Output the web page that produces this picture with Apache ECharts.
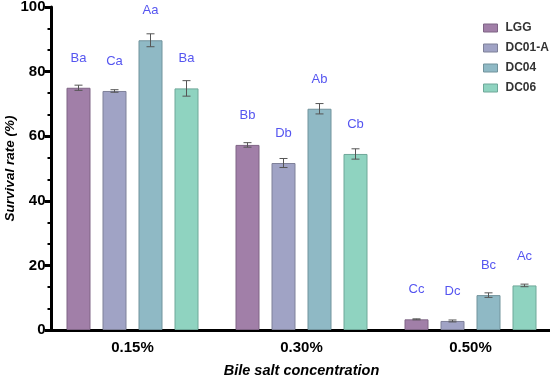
<!DOCTYPE html>
<html>
<head>
<meta charset="utf-8">
<script src="https://cdn.jsdelivr.net/npm/echarts@6/dist/echarts.min.js"></script>
<style>html,body{margin:0;padding:0;background:#fff}#c{width:550px;height:378px}</style>
</head>
<body>
<div id="c"></div>
<script>
const categories = ['0.15%', '0.30%', '0.50%'];
const seriesNames = ['LGG', 'DC01-A', 'DC04', 'DC06'];
const LGG = [75.0, 57.3, 3.3];
const DC01A = [74.0, 51.7, 2.8];
const DC04 = [89.7, 68.5, 10.8];
const DC06 = [74.8, 54.5, 13.8];
const errLGG = [0.8, 0.7, 0.15];
const errDC01A = [0.4, 1.4, 0.3];
const errDC04 = [2.0, 1.6, 0.7];
const errDC06 = [2.4, 1.6, 0.4];
const lettersLGG = ['Ba', 'Bb', 'Cc'];
const lettersDC01A = ['Ca', 'Db', 'Dc'];
const lettersDC04 = ['Aa', 'Ab', 'Bc'];
const lettersDC06 = ['Ba', 'Cb', 'Ac'];
const yTicks = [0, 20, 40, 60, 80, 100];

const values = [LGG, DC01A, DC04, DC06];
const errs = [errLGG, errDC01A, errDC04, errDC06];
const letters = [lettersLGG, lettersDC01A, lettersDC04, lettersDC06];
const colors = ['#a17fa8', '#a0a3c5', '#8fb9c5', '#8fd3c0'];
const borders = ['#7f6485', '#7f8199', '#71939c', '#6fa899'];

const BAR_W = 24, GAP = 12;
const series = [];
values.forEach((vals, i) => {
  series.push({
    name: seriesNames[i],
    type: 'bar',
    data: vals,
    barWidth: BAR_W,
    barGap: (GAP / BAR_W * 100) + '%',
    itemStyle: { color: colors[i], borderColor: borders[i], borderWidth: 1 },
    label: {
      show: true,
      position: 'top',
      distance: 23,
      color: '#5555f0',
      fontSize: 13,
      fontFamily: 'Liberation Sans, Arial, sans-serif',
      formatter: p => letters[i][p.dataIndex]
    },
    z: 2
  });
});
values.forEach((vals, i) => {
  const offset = (i - 1.5) * (BAR_W + GAP);
  series.push({
    type: 'custom',
    name: seriesNames[i] + '-err',
    data: vals.map((v, k) => [k, v, errs[i][k]]),
    z: 5,
    silent: true,
    renderItem: (params, api) => {
      const k = api.value(0), v = api.value(1), e = api.value(2);
      const top = api.coord([k, v + e]);
      const bot = api.coord([k, v - e]);
      const x = top[0] + offset;
      const cap = 4;
      const st = { stroke: '#555', lineWidth: 1 };
      return {
        type: 'group',
        children: [
          { type: 'line', shape: { x1: x, y1: top[1], x2: x, y2: bot[1] }, style: st },
          { type: 'line', shape: { x1: x - cap, y1: top[1], x2: x + cap, y2: top[1] }, style: st },
          { type: 'line', shape: { x1: x - cap, y1: bot[1], x2: x + cap, y2: bot[1] }, style: st }
        ]
      };
    },
    encode: { x: 0, y: 1 }
  });
});

const chart = echarts.init(document.getElementById('c'));
chart.setOption({
  animation: false,
  backgroundColor: '#fff',
  textStyle: { fontFamily: 'Liberation Sans, Arial, sans-serif' },
  grid: { left: 48, right: -5, top: 7, bottom: 48, containLabel: false, outerBoundsMode: 'none' },
  legend: {
    data: seriesNames,
    orient: 'vertical',
    left: 483,
    top: 22,
    padding: 0,
    itemWidth: 14,
    itemHeight: 8,
    itemGap: 8,
    icon: 'rect',
    textStyle: { fontSize: 12, fontWeight: 'bold', color: '#333', padding: [0, 0, 0, 3] },
    itemStyle: { borderWidth: 1 }
  },
  xAxis: {
    type: 'category',
    data: categories,
    name: 'Bile salt concentration',
    nameLocation: 'middle',
    nameGap: 33,
    nameMoveOverlap: false,
    nameTextStyle: { fontSize: 14.5, fontWeight: 'bold', fontStyle: 'italic', color: '#000' },
    axisLine: { lineStyle: { color: '#000', width: 3 } },
    axisTick: { alignWithLabel: true, length: 6, lineStyle: { color: '#000', width: 3 } },
    axisLabel: { fontSize: 15, fontWeight: 'bold', color: '#000', margin: 10 },
    splitLine: { show: false }
  },
  yAxis: {
    type: 'value',
    min: 0,
    max: 100,
    interval: 20,
    offset: -3.5,
    name: 'Survival rate (%)',
    nameLocation: 'middle',
    nameGap: 34,
    nameMoveOverlap: false,
    nameTextStyle: { fontSize: 13.5, fontWeight: 'bold', fontStyle: 'italic', color: '#000' },
    axisLine: { show: true, lineStyle: { color: '#000', width: 3 } },
    axisTick: { show: true, length: 7, lineStyle: { color: '#000', width: 3 } },
    minorTick: { show: true, splitNumber: 3, length: 4, lineStyle: { color: '#000', width: 2 } },
    axisLabel: { fontSize: 15, fontWeight: 'bold', color: '#000', margin: 6, formatter: v => yTicks.includes(v) ? String(v) : '' },
    splitLine: { show: false }
  },
  series: series
});
</script>
</body>
</html>
